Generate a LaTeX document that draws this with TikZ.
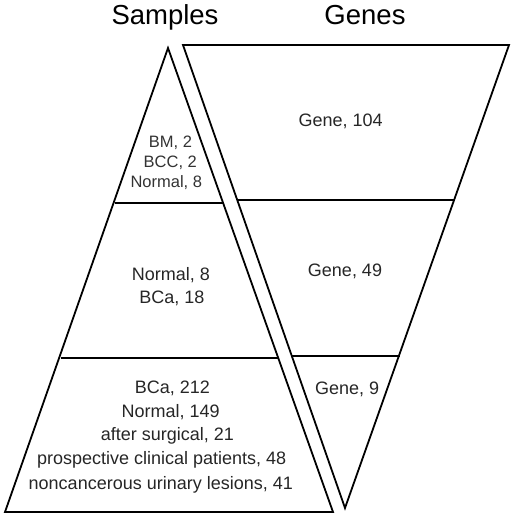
\documentclass[tikz,border=0pt]{standalone}
\usepackage{fontspec}
\setmainfont{Liberation Sans}
\begin{document}
\begin{tikzpicture}[x=1pt,y=-1pt,
  shapeline/.style={draw=black, line width=1.8pt, line join=miter},
  divider/.style={draw=black, line width=1.7pt},
  lbl/.style={anchor=base, inner sep=0pt, text=black!85, font=\fontsize{18}{22}\selectfont},
  lblsmall/.style={anchor=base, inner sep=0pt, text=black!80, font=\fontsize{16.5}{20}\selectfont},
  heading/.style={anchor=base, inner sep=0pt, text=black, font=\fontsize{27.5}{32}\selectfont}]
\useasboundingbox (0,0) rectangle (515,519);
% Samples pyramid
\coordinate (sTop) at (168,48);
\coordinate (sBL) at (5,512);
\coordinate (sBR) at (333,512);
\draw[shapeline] (sTop) -- (sBL) -- (sBR) -- cycle;
\draw[divider] (114.5,203) -- (222.5,203);
\draw[divider] (60.5,358) -- (277.5,358);
% Genes inverted pyramid
\coordinate (gTL) at (183,45);
\coordinate (gTR) at (509,45);
\coordinate (gBot) at (345,508);
\draw[shapeline] (gTL) -- (gTR) -- (gBot) -- cycle;
\draw[divider] (237,200) -- (454.5,200);
\draw[divider] (291.5,356) -- (399.5,356);
% headings
\node[heading] (hS) at (165,24.5) {Samples};
\node[heading] (hG) at (365,24.5) {Genes};
% samples labels
\node[lblsmall] (s1) at (170.5,147.5) {BM, 2};
\node[lblsmall] (s2) at (170.3,167.5) {BCC, 2};
\node[lblsmall] (s3) at (166.3,187.5) {Normal, 8};
\node[lbl] (s4) at (171,280) {Normal, 8};
\node[lbl] (s5) at (172,303.3) {BCa, 18};
\node[lbl] (s6) at (172.5,393.3) {BCa, 212};
\node[lbl] (s7) at (170.7,417) {Normal, 149};
\node[lbl] (s8) at (167.3,440.3) {after surgical, 21};
\node[lbl] (s9) at (161.7,464.7) {prospective clinical patients, 48};
\node[lbl] (s10) at (160.8,489.3) {noncancerous urinary lesions, 41};
% gene labels
\node[lbl] (g1) at (340.7,126.7) {Gene, 104};
\node[lbl] (g2) at (345,276) {Gene, 49};
\node[lbl] (g3) at (347.2,394.3) {Gene, 9};
\end{tikzpicture}
\end{document}
